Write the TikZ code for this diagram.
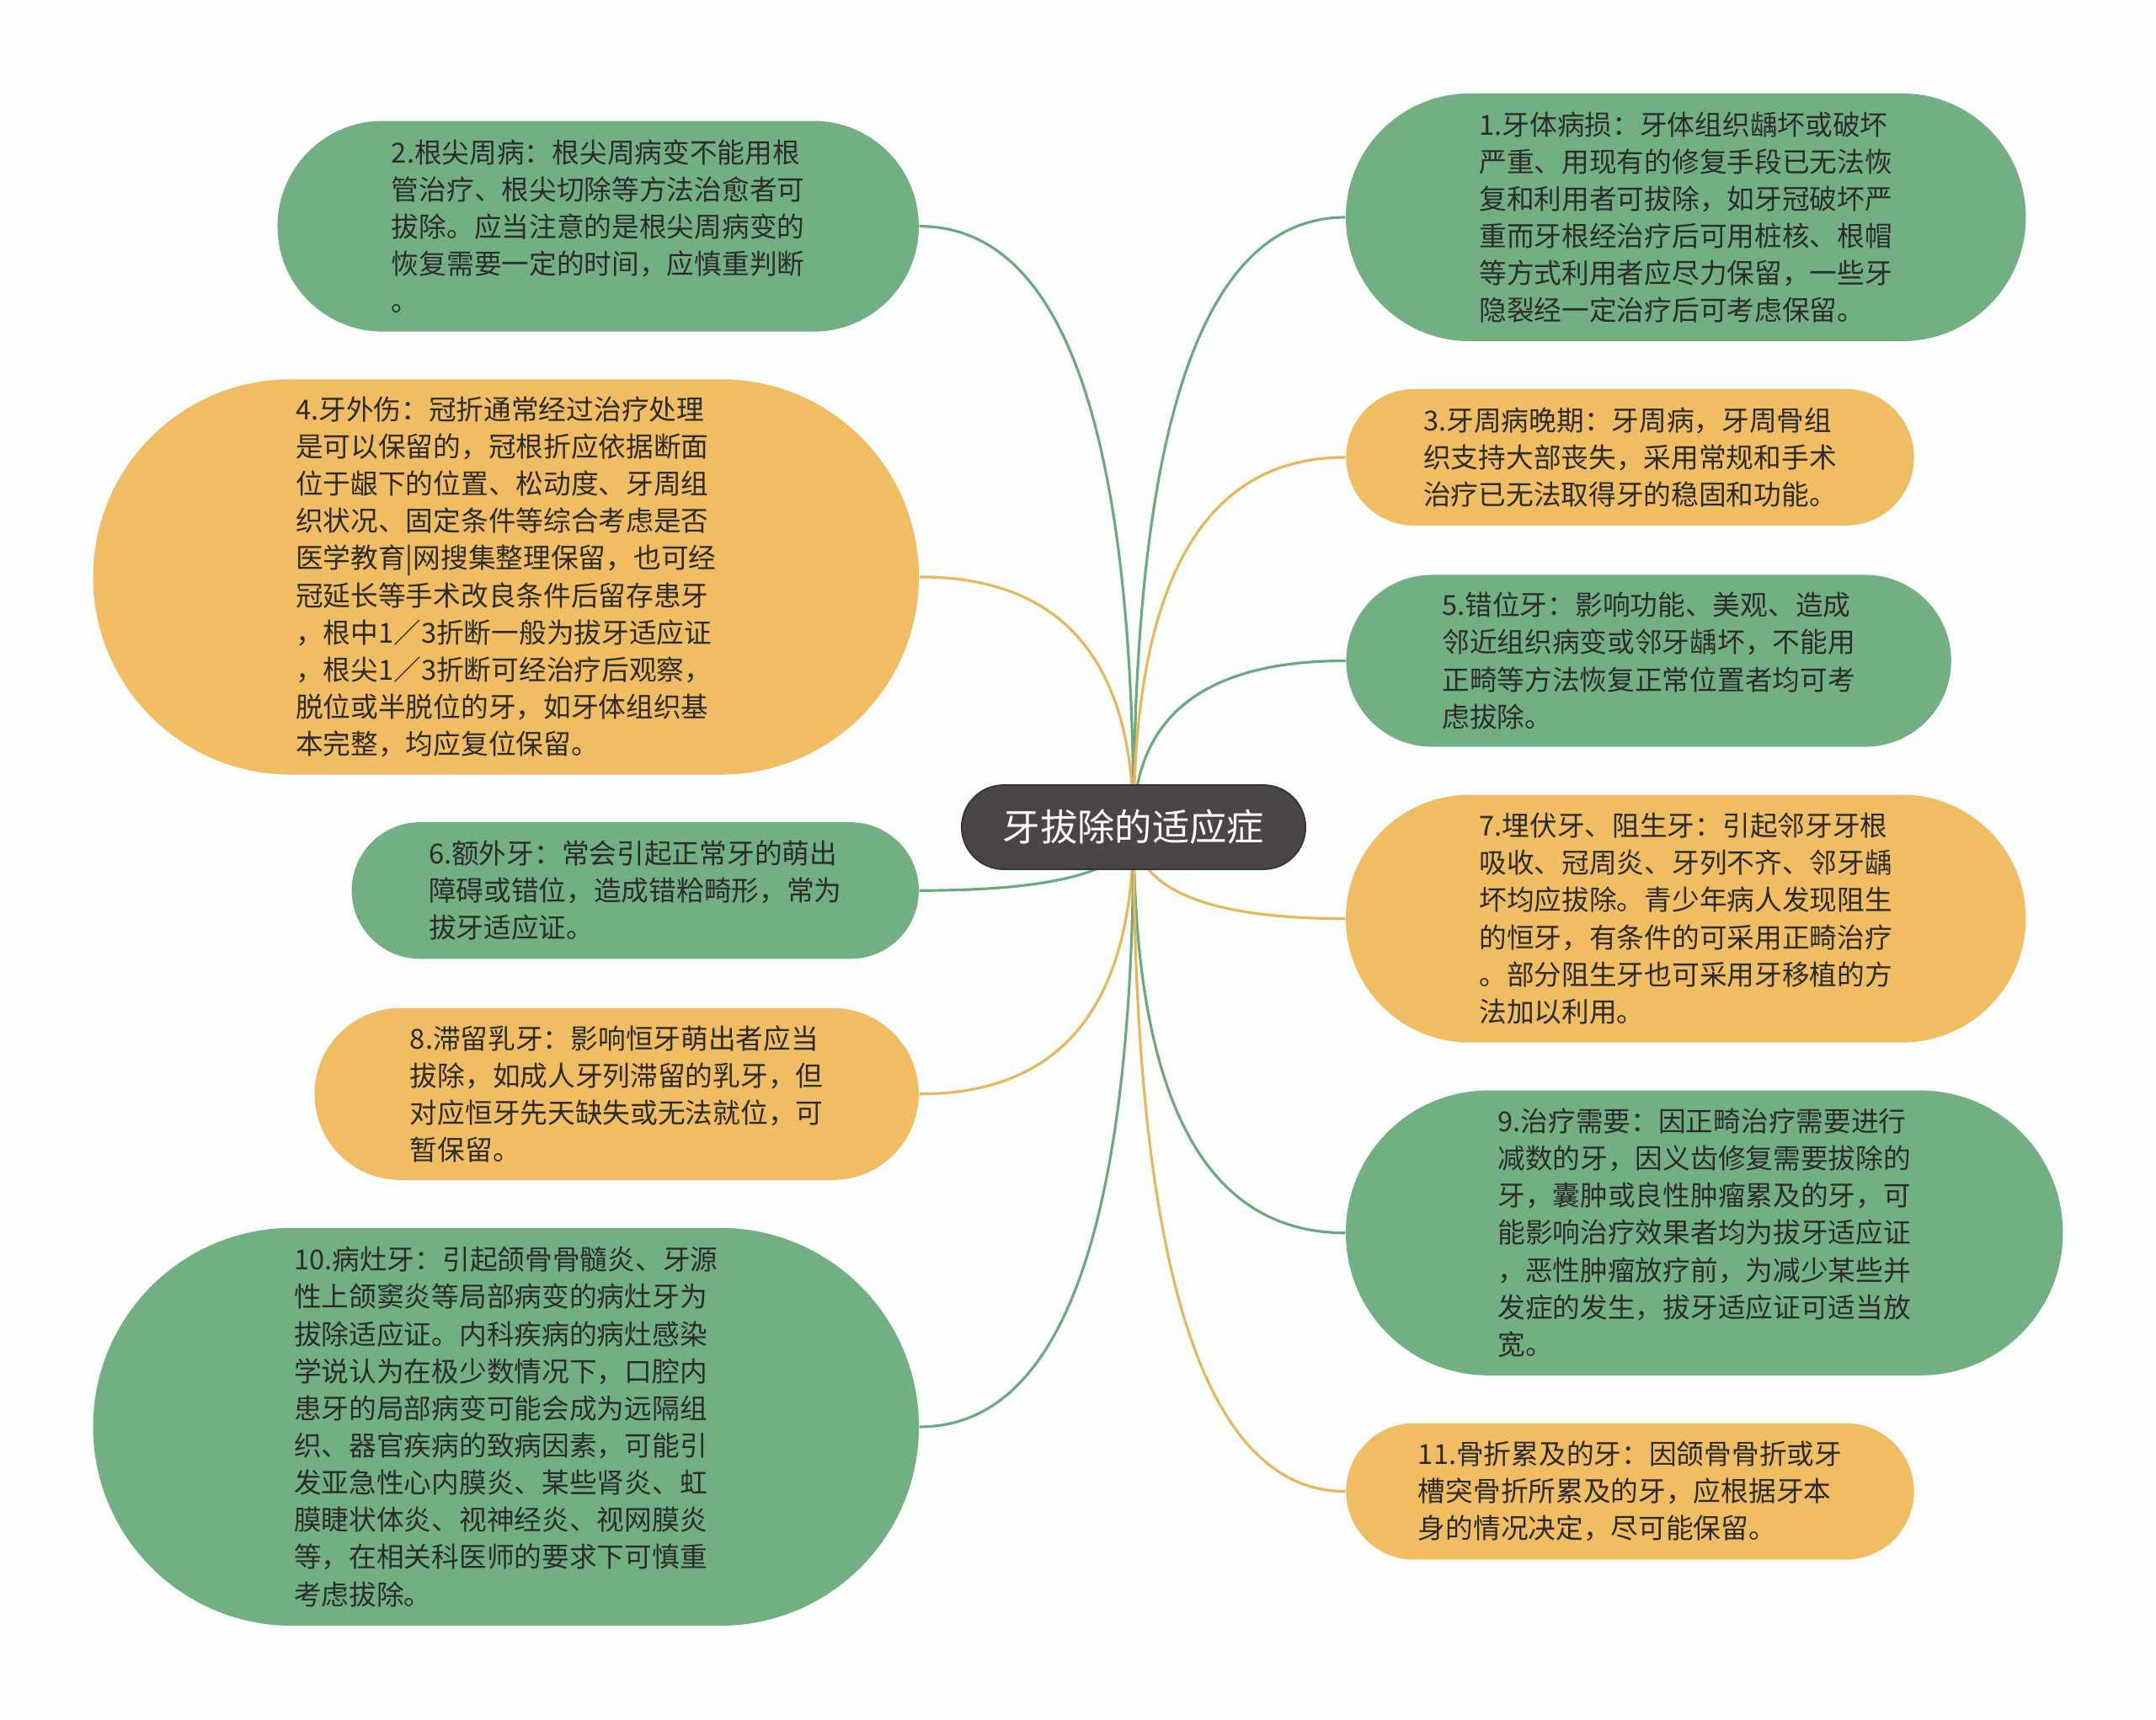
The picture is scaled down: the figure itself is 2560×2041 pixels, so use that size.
\documentclass[tikz,border=0pt]{standalone}
\usepackage{fontspec}
\newfontfamily\cjk{Noto Sans CJK SC}
\usetikzlibrary{shapes.misc,calc}
\definecolor{bgc}{RGB}{251,254,253}
\definecolor{gfill}{HTML}{72B084}
\definecolor{ofill}{HTML}{F0BD62}
\definecolor{gline}{HTML}{6BAA7F}
\definecolor{oline}{HTML}{E9B75A}
\definecolor{cfill}{HTML}{4A4546}
\definecolor{txt}{HTML}{2B2B2B}
\pgfdeclarelayer{bg}
\pgfsetlayers{bg,main}
\tikzset{
  leaf/.style={rounded rectangle, inner sep=0pt, align=left, text=txt,
    font=\cjk\fontsize{9.3}{12.55}\selectfont},
  gleaf/.style={leaf, fill=gfill},
  oleaf/.style={leaf, fill=ofill},
  root/.style={rounded rectangle, inner sep=0pt, fill=cfill, draw=black!80, line width=0.5pt,
    text=white, font=\cjk\fontsize{12.6}{15}\selectfont},
  conn/.style={line width=0.9pt,
    to path={.. controls ($(\tikztostart)!0.667!(\tikztostart|-\tikztotarget)$) and ($(\tikztotarget)!0.667!(\tikztostart|-\tikztotarget)$) .. (\tikztotarget)}}
}
\begin{document}
\begin{tikzpicture}[x=0.01cm,y=-0.01cm]
\useasboundingbox (0,0) rectangle (2560,2041);

\node[root, minimum width=4.08cm, minimum height=1.0cm] (c) at (1346,982) {牙拔除的适应症};

\node[gleaf, minimum width=8.07cm, minimum height=2.94cm] (n1) at (2001.7,258) {1.牙体病损：牙体组织龋坏或破坏\\严重、用现有的修复手段已无法恢\\复和利用者可拔除，如牙冠破坏严\\重而牙根经治疗后可用桩核、根帽\\等方式利用者应尽力保留，一些牙\\隐裂经一定治疗后可考虑保留。};

\node[gleaf, minimum width=7.61cm, minimum height=2.50cm] (n2) at (710.2,268.6) {2.根尖周病：根尖周病变不能用根\\管治疗、根尖切除等方法治愈者可\\拔除。应当注意的是根尖周病变的\\恢复需要一定的时间，应慎重判断\\。};

\node[oleaf, minimum width=6.74cm, minimum height=1.62cm] (n3) at (1935.5,542.9) {3.牙周病晚期：牙周病，牙周骨组\\织支持大部丧失，采用常规和手术\\治疗已无法取得牙的稳固和功能。};

\node[oleaf, minimum width=9.80cm, minimum height=4.69cm] (n4) at (600.8,684.9) {4.牙外伤：冠折通常经过治疗处理\\是可以保留的，冠根折应依据断面\\位于龈下的位置、松动度、牙周组\\织状况、固定条件等综合考虑是否\\医学教育|网搜集整理保留，也可经\\冠延长等手术改良条件后留存患牙\\，根中1／3折断一般为拔牙适应证\\，根尖1／3折断可经治疗后观察，\\脱位或半脱位的牙，如牙体组织基\\本完整，均应复位保留。};

\node[gleaf, minimum width=7.18cm, minimum height=2.04cm] (n5) at (1957.6,784.5) {5.错位牙：影响功能、美观、造成\\邻近组织病变或邻牙龋坏，不能用\\正畸等方法恢复正常位置者均可考\\虑拔除。};

\node[gleaf, minimum width=6.73cm, minimum height=1.62cm] (n6) at (754.3,1057.2) {6.额外牙：常会引起正常牙的萌出\\障碍或错位，造成错粭畸形，常为\\拔牙适应证。};

\node[oleaf, minimum width=8.07cm, minimum height=2.94cm] (n7) at (2001.7,1090.6) {7.埋伏牙、阻生牙：引起邻牙牙根\\吸收、冠周炎、牙列不齐、邻牙龋\\坏均应拔除。青少年病人发现阻生\\的恒牙，有条件的可采用正畸治疗\\。部分阻生牙也可采用牙移植的方\\法加以利用。};

\node[oleaf, minimum width=7.17cm, minimum height=2.04cm] (n8) at (732.2,1298.8) {8.滞留乳牙：影响恒牙萌出者应当\\拔除，如成人牙列滞留的乳牙，但\\对应恒牙先天缺失或无法就位，可\\暂保留。};

\node[gleaf, minimum width=8.51cm, minimum height=3.38cm] (n9) at (2023.7,1463.7) {9.治疗需要：因正畸治疗需要进行\\减数的牙，因义齿修复需要拔除的\\牙，囊肿或良性肿瘤累及的牙，可\\能影响治疗效果者均为拔牙适应证\\，恶性肿瘤放疗前，为减少某些并\\发症的发生，拔牙适应证可适当放\\宽。};

\node[gleaf, minimum width=9.80cm, minimum height=4.72cm] (n10) at (600.8,1693.9) {10.病灶牙：引起颌骨骨髓炎、牙源\\性上颌窦炎等局部病变的病灶牙为\\拔除适应证。内科疾病的病灶感染\\学说认为在极少数情况下，口腔内\\患牙的局部病变可能会成为远隔组\\织、器官疾病的致病因素，可能引\\发亚急性心内膜炎、某些肾炎、虹\\膜睫状体炎、视神经炎、视网膜炎\\等，在相关科医师的要求下可慎重\\考虑拔除。};

\node[oleaf, minimum width=6.74cm, minimum height=1.62cm] (n11) at (1935.5,1770.6) {11.骨折累及的牙：因颌骨骨折或牙\\槽突骨折所累及的牙，应根据牙本\\身的情况决定，尽可能保留。};

\begin{pgfonlayer}{bg}
\fill[bgc] (0,0) rectangle (2560,2041);
\draw[conn, gline] (c.center) to (n1.west);
\draw[conn, gline] (c.center) to (n2.east);
\draw[conn, oline] (c.center) to (n3.west);
\draw[conn, oline] (c.center) to (n4.east);
\draw[conn, gline] (c.center) to (n5.west);
\draw[conn, gline] (c.center) to (n6.east);
\draw[conn, oline] (c.center) to (n7.west);
\draw[conn, oline] (c.center) to (n8.east);
\draw[conn, gline] (c.center) to (n9.west);
\draw[conn, gline] (c.center) to (n10.east);
\draw[conn, oline] (c.center) to (n11.west);
\end{pgfonlayer}
\end{tikzpicture}
\end{document}
